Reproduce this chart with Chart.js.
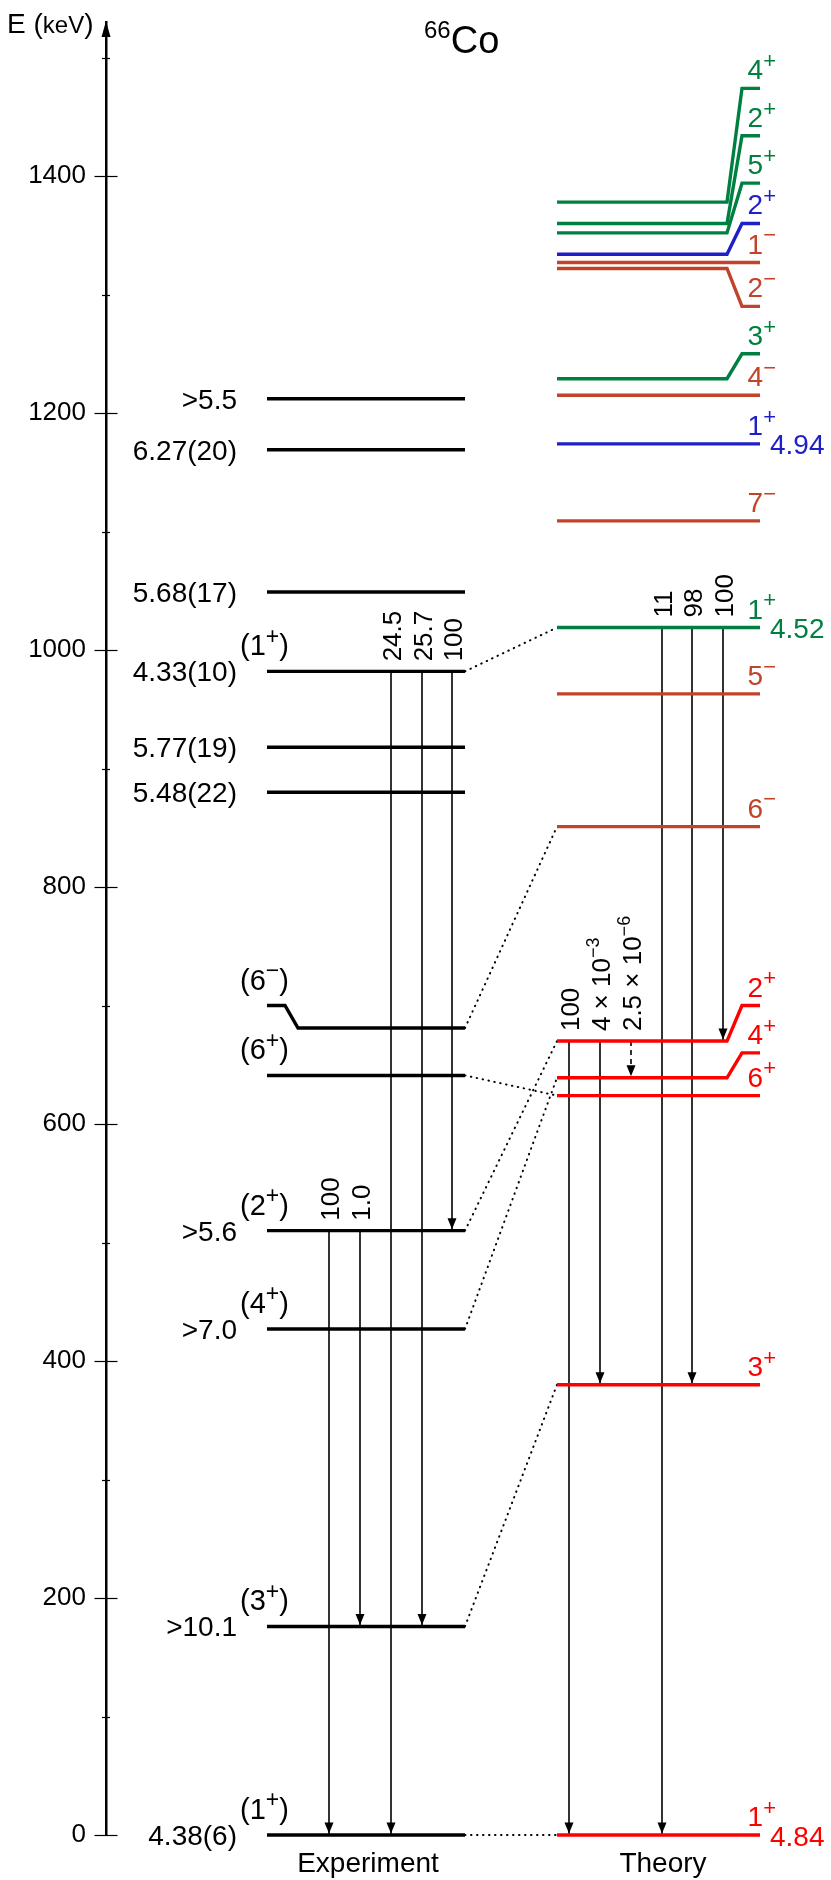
<!DOCTYPE html>
<html>
<head>
<meta charset="utf-8">
<script src="https://cdn.jsdelivr.net/npm/chart.js@4.4.1/dist/chart.umd.min.js"></script>
<style>
  html, body { margin: 0; padding: 0; background: #fff; }
</style>
</head>
<body>
<canvas id="scheme" width="831" height="1880"></canvas>
<script>
// ---- experiment: levels (keV), log ft values, spins ----
const expEnergy      = [0, 176, 427, 510, 641, 681, 880, 918, 982, 1049, 1169, 1212];
const expLabelEnergy = [0, 176, 427, 510, 641, 700, 880, 918, 982, 1049, 1169, 1212]; // where the left end / label sits
const expLogft = ['4.38(6)', '>10.1', '>7.0', '>5.6', '', '', '5.48(22)', '5.77(19)', '4.33(10)', '5.68(17)', '6.27(20)', '>5.5'];
const expSpin  = ['(1^{+})', '(3^{+})', '(4^{+})', '(2^{+})', '(6^{+})', '(6^{−})', '', '', '(1^{+})', '', '', ''];

// experiment gamma transitions (from, to, relative intensity)
const expTrFrom = [982, 982, 982, 510, 510];
const expTrTo   = [0, 176, 510, 0, 176];
const expTrInt  = ['24.5', '25.7', '100', '100', '1.0'];

// ---- theory: levels (keV), spins, log ft, group ----
const thEnergy      = [0, 380, 624, 639, 670, 851, 963, 1019, 1109, 1174, 1215, 1229, 1322, 1327, 1334, 1352, 1360, 1378];
const thLabelEnergy = [0, 380, 624, 660, 700, 851, 963, 1019, 1109, 1174, 1215, 1250, 1290, 1327, 1360, 1394, 1434, 1474];
const thSpin  = ['1^{+}', '3^{+}', '6^{+}', '4^{+}', '2^{+}', '6^{−}', '5^{−}', '1^{+}', '7^{−}', '1^{+}', '4^{−}', '3^{+}', '2^{−}', '1^{−}', '2^{+}', '5^{+}', '2^{+}', '4^{+}'];
const thLogft = ['4.84', '', '', '', '', '', '', '4.52', '', '4.94', '', '', '', '', '', '', '', ''];
const thGroup = [0, 0, 0, 0, 0, 1, 1, 2, 1, 3, 1, 2, 1, 1, 3, 2, 2, 2];

// theory transitions
const thTrFrom = [1019, 1019, 1019, 670, 670, 670];
const thTrTo   = [0, 380, 670, 0, 380, 639];
const thTrInt  = ['11', '98', '100', '100', '4 × 10^{−3}', '2.5 × 10^{−6}'];

// experiment <-> theory correspondences
const linkExp = [0, 176, 427, 510, 641, 681, 982];
const linkTh  = [0, 380, 639, 670, 624, 851, 1019];

const axisTicks = [0, 100, 200, 300, 400, 500, 600, 700, 800, 900, 1000, 1100, 1200, 1300, 1400, 1500];

// ---- layout / style ----
const FONT = "'Liberation Sans', Arial, sans-serif";
const GROUP_COLORS = ['#ff0000', '#c0432a', '#008040', '#1f1fc8'];
const AXIS_X = 106;
const EXP_X0 = 267, EXP_X1 = 465, EXP_K0 = 285, EXP_K1 = 298;
const TH_X0 = 557, TH_X1 = 760, TH_K0 = 727, TH_K1 = 742;
const expTrX = [391, 422, 452, 329, 360];
const thTrX  = [662, 692, 723, 569, 600, 631];
const DASHED_TH = 5;

const datasets = [];

expEnergy.forEach((e, i) => {
  const el = expLabelEnergy[i];
  const pts = el === e
    ? [{x: EXP_X0, y: e}, {x: EXP_X1, y: e}]
    : [{x: EXP_X0, y: el}, {x: EXP_K0, y: el}, {x: EXP_K1, y: e}, {x: EXP_X1, y: e}];
  datasets.push({data: pts, borderColor: '#000', borderWidth: 3.4, clip: false});
});

thEnergy.forEach((e, i) => {
  const el = thLabelEnergy[i];
  const pts = el === e
    ? [{x: TH_X0, y: e}, {x: TH_X1, y: e}]
    : [{x: TH_X0, y: e}, {x: TH_K0, y: e}, {x: TH_K1, y: el}, {x: TH_X1, y: el}];
  datasets.push({data: pts, borderColor: GROUP_COLORS[thGroup[i]], borderWidth: 3.4, clip: false});
});

expTrFrom.forEach((f, i) => {
  datasets.push({data: [{x: expTrX[i], y: f}, {x: expTrX[i], y: expTrTo[i]}], borderColor: '#000', borderWidth: 1.6, clip: false});
});
thTrFrom.forEach((f, i) => {
  datasets.push({data: [{x: thTrX[i], y: f}, {x: thTrX[i], y: thTrTo[i]}], borderColor: '#000', borderWidth: 1.6,
    borderDash: i === DASHED_TH ? [5, 4] : [], clip: false});
});

linkExp.forEach((e, i) => {
  datasets.push({data: [{x: EXP_X1, y: e}, {x: TH_X0, y: linkTh[i]}], borderColor: '#000', borderWidth: 2,
    borderDash: [0.5, 5.5], borderCapStyle: 'round', clip: false});
});

// text with ^{...} superscripts
function drawRich(ctx, str, x, y, size, align, color, supScale) {
  const parts = [];
  const re = /\^\{([^}]*)\}/g;
  let last = 0, m;
  while ((m = re.exec(str))) {
    if (m.index > last) parts.push({t: str.slice(last, m.index), sup: false});
    parts.push({t: m[1], sup: true});
    last = re.lastIndex;
  }
  if (last < str.length) parts.push({t: str.slice(last), sup: false});
  const supSize = Math.round(size * (supScale || 0.7));
  let w = 0;
  parts.forEach(p => {
    ctx.font = (p.sup ? supSize : size) + 'px ' + FONT;
    p.w = ctx.measureText(p.t).width;
    w += p.w;
  });
  let cx = align === 'right' ? x - w : align === 'center' ? x - w / 2 : x;
  ctx.fillStyle = color;
  ctx.textAlign = 'left';
  ctx.textBaseline = 'alphabetic';
  parts.forEach(p => {
    ctx.font = (p.sup ? supSize : size) + 'px ' + FONT;
    ctx.fillText(p.t, cx, p.sup ? y - size * 0.4 : y);
    cx += p.w;
  });
}

function arrowHead(ctx, xp, tipY) {
  ctx.beginPath();
  ctx.moveTo(xp, tipY);
  ctx.lineTo(xp - 4.5, tipY - 11);
  ctx.lineTo(xp + 4.5, tipY - 11);
  ctx.closePath();
  ctx.fill();
}

function vLabel(ctx, str, xp, yBottom) {
  ctx.save();
  ctx.translate(xp, yBottom);
  ctx.rotate(-Math.PI / 2);
  drawRich(ctx, str, 0, 9.5, 26, 'left', '#000', 0.7);
  ctx.restore();
}

const schemePlugin = {
  id: 'scheme',
  afterDraw(chart) {
    const ctx = chart.ctx;
    const xs = chart.scales.x, ys = chart.scales.y;
    const px = v => xs.getPixelForValue(v);
    const py = v => ys.getPixelForValue(v);
    ctx.save();

    // axis arrow and ticks
    const ax = px(AXIS_X);
    ctx.fillStyle = '#000';
    ctx.beginPath();
    ctx.moveTo(ax, chart.chartArea.top - 1);
    ctx.lineTo(ax - 4.5, chart.chartArea.top + 15);
    ctx.lineTo(ax + 4.5, chart.chartArea.top + 15);
    ctx.closePath();
    ctx.fill();
    ctx.strokeStyle = '#000';
    ctx.lineWidth = 1.2;
    axisTicks.forEach(v => {
      const y = Math.round(py(v)) + 0.5;
      const half = v % 200 === 0 ? 11.5 : 4;
      ctx.beginPath();
      ctx.moveTo(ax - half, y);
      ctx.lineTo(ax + half, y);
      ctx.stroke();
    });

    drawRich(ctx, 'E (', 7, 33, 28, 'left', '#000');
    ctx.font = '28px ' + FONT;
    let wE = ctx.measureText('E (').width;
    ctx.font = '24px ' + FONT;
    ctx.fillText('keV', 7 + wE, 33);
    let wK = ctx.measureText('keV').width;
    ctx.font = '28px ' + FONT;
    ctx.fillText(')', 7 + wE + wK, 33);

    drawRich(ctx, '^{66}Co', 424, 53, 38, 'left', '#000', 0.62);

    // experiment labels
    expEnergy.forEach((e, i) => {
      if (expLogft[i]) drawRich(ctx, expLogft[i], 237, py(e) + 10, 28, 'right', '#000');
      if (expSpin[i]) drawRich(ctx, expSpin[i], 240, py(expLabelEnergy[i]) - 16, 29, 'left', '#000', 0.8);
    });

    // theory labels
    thEnergy.forEach((e, i) => {
      const c = GROUP_COLORS[thGroup[i]];
      drawRich(ctx, thSpin[i], 776, py(thLabelEnergy[i]) - 9, 28, 'right', c, 0.8);
      if (thLogft[i]) drawRich(ctx, thLogft[i], 770, py(e) + 10.5, 28, 'left', c);
    });

    // arrowheads and intensities
    ctx.fillStyle = '#000';
    expTrFrom.forEach((f, i) => {
      ctx.fillStyle = '#000';
      arrowHead(ctx, px(expTrX[i]), py(expTrTo[i]) - 1.5);
      vLabel(ctx, expTrInt[i], px(expTrX[i]), py(f) - 10);
    });
    thTrFrom.forEach((f, i) => {
      ctx.fillStyle = '#000';
      arrowHead(ctx, px(thTrX[i]), py(thTrTo[i]) - 1.5);
      vLabel(ctx, thTrInt[i], px(thTrX[i]), py(f) - 10);
    });

    drawRich(ctx, 'Experiment', 368, 1872, 28, 'center', '#000');
    drawRich(ctx, 'Theory', 663, 1872, 28, 'center', '#000');
    ctx.restore();
  }
};

new Chart(document.getElementById('scheme').getContext('2d'), {
  type: 'line',
  data: {datasets},
  plugins: [schemePlugin],
  options: {
    responsive: false,
    animation: false,
    layout: {padding: {top: 22, bottom: 45, left: 0, right: 0}},
    elements: {point: {radius: 0}, line: {tension: 0, fill: false}},
    plugins: {legend: {display: false}, tooltip: {enabled: false}},
    scales: {
      x: {type: 'linear', min: AXIS_X, max: 831, display: false},
      y: {
        type: 'linear', min: 0, max: 1530,
        afterFit(scale) {
          scale.width = AXIS_X;
          scale.paddingTop = 0;
          scale.paddingBottom = 0;
        },
        grid: {display: false, drawTicks: false},
        border: {display: true, color: '#000', width: 2.5},
        ticks: {
          stepSize: 200, includeBounds: false, padding: 20, color: '#000',
          font: {family: FONT, size: 26},
          callback: v => String(v)
        }
      }
    }
  }
});
</script>
</body>
</html>
